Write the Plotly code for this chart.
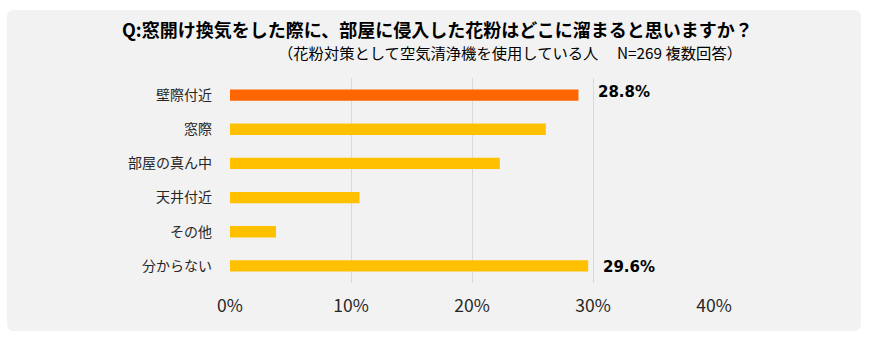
import plotly.graph_objects as go

categories = ["壁際付近", "窓際", "部屋の真ん中", "天井付近", "その他", "分からない"]
values = [28.8, 26.1, 22.3, 10.7, 3.8, 29.6]
colors = ["#FF6600", "#FFC000", "#FFC000", "#FFC000", "#FFC000", "#FFC000"]
labelled = {"壁際付近": "28.8%", "分からない": "29.6%"}
tick_vals = [0, 10, 20, 30, 40]
tick_text = ["0%", "10%", "20%", "30%", "40%"]
title = "Q:窓開け換気をした際に、部屋に侵入した花粉はどこに溜まると思いますか？"
subtitle = "（花粉対策として空気清浄機を使用している人　 N=269 複数回答）"

W, H = 875, 343
L, R, T, B = 230, 161, 78, 60
pw, ph = W - L - R, H - T - B

def px(x):
    return (x - L) / pw

def py(y):
    return (H - B - y) / ph

fig = go.Figure(go.Bar(
    x=values, y=categories, orientation="h",
    marker=dict(color=colors, line=dict(width=0)),
    width=0.33, hoverinfo="skip",
))

# rounded panel
x0, x1, y0, y1, r = 7, 861, 10, 331, 7
path = (f"M {px(x0+r)},{py(y0)} L {px(x1-r)},{py(y0)} Q {px(x1)},{py(y0)} {px(x1)},{py(y0+r)} "
        f"L {px(x1)},{py(y1-r)} Q {px(x1)},{py(y1)} {px(x1-r)},{py(y1)} "
        f"L {px(x0+r)},{py(y1)} Q {px(x0)},{py(y1)} {px(x0)},{py(y1-r)} "
        f"L {px(x0)},{py(y0+r)} Q {px(x0)},{py(y0)} {px(x0+r)},{py(y0)} Z")
fig.add_shape(type="path", path=path, xref="paper", yref="paper",
              fillcolor="#F2F2F2", line=dict(width=0), layer="below")

annos = [
    dict(text=f"<b>{title}</b>", x=px(437), y=py(29), xref="paper", yref="paper",
         showarrow=False, xanchor="center", yanchor="middle",
         font=dict(size=18, color="#000000", family="Noto Sans CJK JP")),
    dict(text=subtitle, x=px(510), y=py(52), xref="paper", yref="paper",
         showarrow=False, xanchor="center", yanchor="middle",
         font=dict(size=15.3, color="#000000", family="Noto Sans CJK JP")),
]
shifts = {"壁際付近": (20, 3), "分からない": (15, -1)}
for c, v in zip(categories, values):
    if c in labelled:
        xs, ys = shifts[c]
        annos.append(dict(text=f"<b>{labelled[c]}</b>", x=v, y=c, xref="x", yref="y",
                          showarrow=False, xanchor="left", yanchor="middle",
                          xshift=xs - 2, yshift=ys,
                          font=dict(size=15, color="#000000", family="DejaVu Sans")))

fig.update_layout(
    width=W, height=H,
    margin=dict(l=L, r=R, t=T, b=B, pad=0),
    paper_bgcolor="white", plot_bgcolor="rgba(0,0,0,0)",
    showlegend=False,
    annotations=annos,
    xaxis=dict(range=[0, 40], tickvals=tick_vals, ticktext=tick_text,
               showgrid=True, gridcolor="#D9D9D9", gridwidth=1,
               zeroline=False, showline=False, ticks="",
               tickfont=dict(size=17.5, color="#262626", family="Noto Sans CJK JP"),
               ticklabelstandoff=10, fixedrange=True),
    yaxis=dict(categoryorder="array", categoryarray=categories[::-1],
               autorange=True, showgrid=False, zeroline=False, showline=False,
               ticks="", tickfont=dict(size=14, color="#262626", family="Noto Sans CJK JP"),
               ticklabelstandoff=17, fixedrange=True),
)

fig.write_html("out.html")
